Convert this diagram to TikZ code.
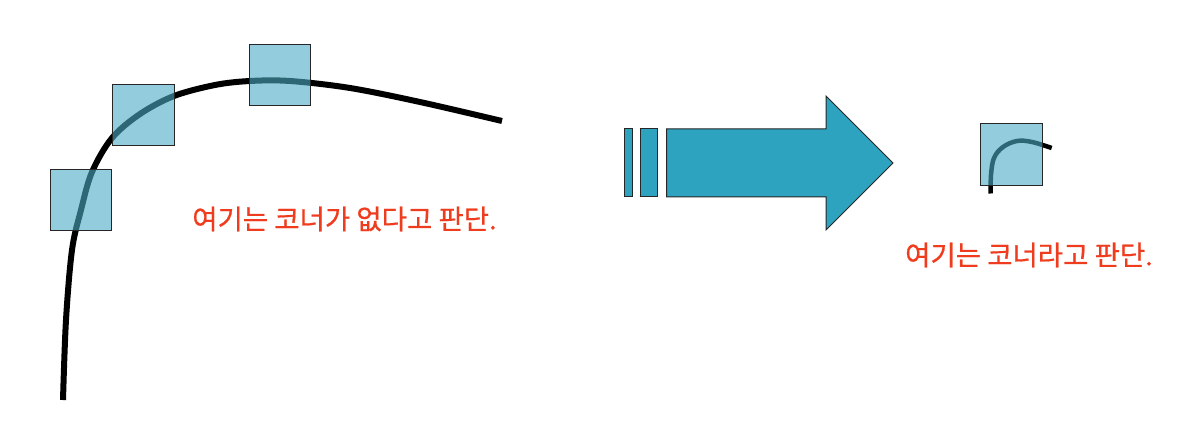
\documentclass[tikz,border=0pt]{standalone}
\usepackage{fontspec}
\newfontfamily\kofont[FakeBold=0.6]{Noto Sans CJK KR}
\definecolor{boxblue}{HTML}{4BACC6}
\definecolor{arrowblue}{HTML}{2EA3C0}
\definecolor{labelred}{HTML}{F03C1E}
\tikzset{
  winbox/.style={draw=black!85, line width=1pt, fill=boxblue, fill opacity=0.6, draw opacity=1},
  edgecurve/.style={line width=6pt, black},
  smallcurve/.style={line width=4.5pt, black},
  solidarrow/.style={draw=black!85, line width=1pt, fill=arrowblue},
  lbl/.style={text=labelred, font=\kofont\fontsize{27.5}{32}\selectfont, inner sep=0pt}
}
\begin{document}
\begin{tikzpicture}[x=1pt,y=-1pt]
\useasboundingbox (0,0) rectangle (1200,422);
% left curve
\draw[edgecurve] plot[smooth, tension=0.55] coordinates {(63,400) (66,320) (72,250) (81,210) (92,172) (112,138) (140,114) (174,96) (215,85) (250,81) (290,81) (350,88) (420,102) (502,121)};
% windows
\node[winbox, minimum width=61pt, minimum height=61pt, inner sep=0pt] (w1) at (81,200) {};
\node[winbox, minimum width=62pt, minimum height=61pt, inner sep=0pt] (w2) at (143,115) {};
\node[winbox, minimum width=61pt, minimum height=61pt, inner sep=0pt] (w3) at (279.5,75.5) {};
\node[lbl] (t1) at (344.5,219) {여기는 코너가 없다고 판단.};
% arrow
\draw[solidarrow] (624,129) rectangle (632.7,197);
\draw[solidarrow] (640.7,129) rectangle (657.7,197);
\draw[solidarrow] (666.7,129) -- (826,129) -- (826,96) -- (893,163) -- (826,230) -- (826,197) -- (666.7,197) -- cycle;
% small curve and window
\draw[smallcurve] plot[smooth, tension=0.6] coordinates {(990.7,193.5) (991,175) (994,158) (1003,147) (1017,141) (1032,142) (1051.7,148)};
\node[winbox, minimum width=62pt, minimum height=62pt, inner sep=0pt] (w4) at (1011.7,155) {};
\node[lbl] (t2) at (1029,255) {여기는 코너라고 판단.};
\end{tikzpicture}
\end{document}
